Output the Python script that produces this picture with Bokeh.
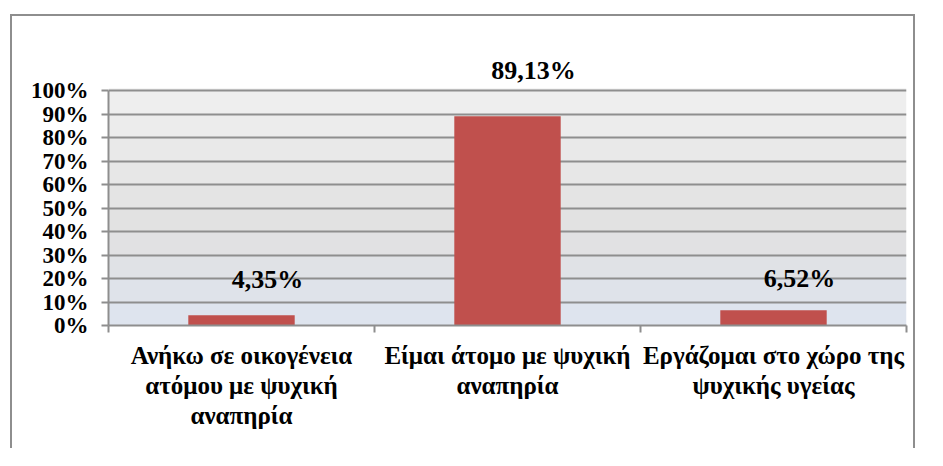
from bokeh.plotting import figure
from bokeh.models import Range1d, FixedTicker, ColumnDataSource, LabelSet, BoxAnnotation
from bokeh.embed import file_html
from bokeh.resources import INLINE

categories = ["Ανήκω σε οικογένεια\nατόμου με ψυχική\nαναπηρία",
              "Είμαι άτομο με ψυχική\nαναπηρία",
              "Εργάζομαι στο χώρο της\nψυχικής υγείας"]
values = [4.35, 89.13, 6.52]
value_labels = ["4,35%", "89,13%", "6,52%"]
label_dy = [36, 46, 32]  # pixel lift of each value label above its bar
y_ticks = [0, 10, 20, 30, 40, 50, 60, 70, 80, 90, 100]

# plot-area gradient (bottom band to top band)
band_colors = ["#DEE4EE", "#DFE3EA", "#E0E2E6", "#E1E1E3", "#E2E2E2",
               "#E4E4E4", "#E7E7E7", "#E9E9E9", "#ECECEC", "#EEEEEE"]

xs = [i + 0.5 for i in range(len(categories))]
src = ColumnDataSource(dict(x=xs, top=values, lab=value_labels, dy=label_dy,
                            dx=[26] * len(values)))

FONT = "Liberation Serif"
Y_TOP = 101.0

p = figure(width=905, height=434, output_backend="svg", toolbar_location=None,
           x_range=Range1d(0, 3), y_range=Range1d(0, 117.2),
           min_border_left=96, min_border_top=34, min_border_right=11,
           min_border_bottom=125)
p.styles = {"margin": "14px 8px 0px 10px",
            "border-top": "2px solid #8E8E8E",
            "border-left": "2px solid #8E8E8E",
            "border-right": "2px solid #8E8E8E",
            "border-bottom": "none"}
p.outline_line_color = None
p.background_fill_color = "white"
p.border_fill_color = "white"

for i, c in enumerate(band_colors):
    lo = y_ticks[i]
    hi = y_ticks[i + 1] if i + 1 < len(band_colors) else Y_TOP
    p.add_layout(BoxAnnotation(bottom=lo, top=hi, fill_color=c, fill_alpha=1,
                               line_color=None, level="image"))

p.vbar(x="x", top="top", width=0.4, bottom=0, source=src,
       fill_color="#C0504D", line_color=None)

labels = LabelSet(x="x", y="top", text="lab", source=src, x_offset="dx", y_offset="dy",
                  text_align="center", text_baseline="middle",
                  text_font=FONT, text_font_style="bold", text_font_size="26px",
                  text_color="black")
p.add_layout(labels)

# y axis
p.yaxis.ticker = FixedTicker(ticks=y_ticks)
p.yaxis.bounds = (0, 100)
p.yaxis.major_label_overrides = {t: f"{t}%" for t in y_ticks}
p.yaxis.major_label_text_font = FONT
p.yaxis.major_label_text_font_style = "bold"
p.yaxis.major_label_text_font_size = "23px"
p.yaxis.major_label_text_color = "black"
p.yaxis.axis_line_color = "#8E8E8E"
p.yaxis.axis_line_width = 2
p.yaxis.major_tick_line_color = "#8E8E8E"
p.yaxis.major_tick_line_width = 2
p.yaxis.major_tick_out = 7
p.yaxis.major_tick_in = 0
p.yaxis.minor_tick_line_color = None
p.yaxis.major_label_standoff = 13

# x axis
p.xaxis.ticker = FixedTicker(ticks=xs, minor_ticks=[0, 1, 2, 3])
p.xaxis.major_label_overrides = {x: c for x, c in zip(xs, categories)}
p.xaxis.major_label_text_font = FONT
p.xaxis.major_label_text_font_style = "bold"
p.xaxis.major_label_text_font_size = "25px"
p.xaxis.major_label_text_color = "black"
p.xaxis.major_label_text_line_height = 1.12
p.xaxis.axis_line_color = "#8E8E8E"
p.xaxis.axis_line_width = 2
p.xaxis.major_tick_line_color = None
p.xaxis.major_tick_out = 0
p.xaxis.major_tick_in = 0
p.xaxis.minor_tick_line_color = "#8E8E8E"
p.xaxis.minor_tick_line_width = 2
p.xaxis.minor_tick_out = 7
p.xaxis.minor_tick_in = 0
p.xaxis.major_label_standoff = 9

p.xgrid.grid_line_color = None
p.ygrid.ticker = FixedTicker(ticks=y_ticks[1:])
p.ygrid.grid_line_color = "#8E8E8E"
p.ygrid.grid_line_width = 2

open("out.html", "w").write(file_html(p, INLINE))
